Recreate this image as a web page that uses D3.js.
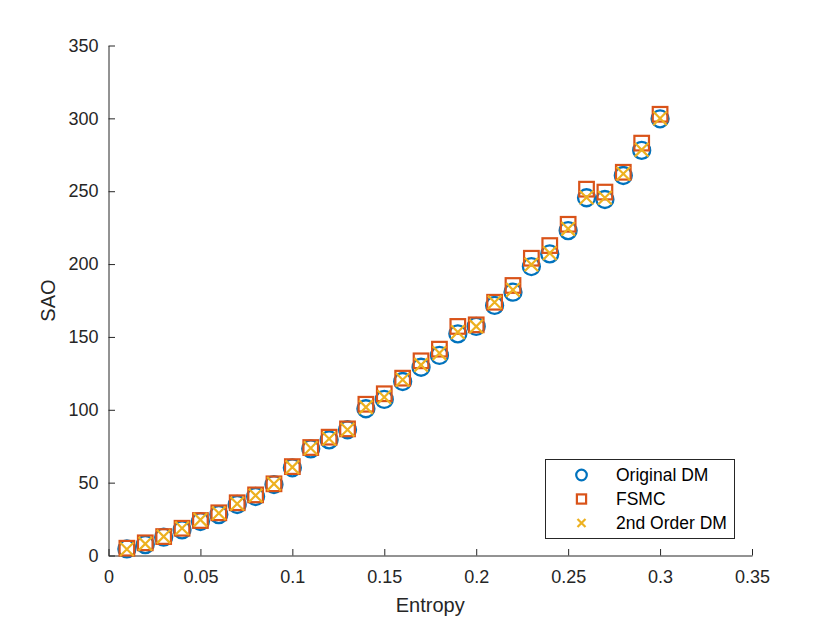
<!DOCTYPE html>
<html>
<head>
<meta charset="utf-8">
<script src="https://cdn.jsdelivr.net/npm/d3@7"></script>
<style>
	body{margin:0;background:#fff;}
	svg{display:block;font-family:"Liberation Sans",Arial,Helvetica,sans-serif;}
	.axis path,.axis line{stroke:#262626;stroke-width:1;}
	.axis text{fill:#262626;font-size:18px;}
</style>
</head>
<body>
<svg width="830" height="623"></svg>
<script>
const entropy = [0.01,0.02,0.03,0.04,0.05,0.06,0.07,0.08,0.09,0.10,
	0.11,0.12,0.13,0.14,0.15,0.16,0.17,0.18,0.19,0.20,
	0.21,0.22,0.23,0.24,0.25,0.26,0.27,0.28,0.29,0.30];
const originalDM = [4.5,7.5,12.6,17.6,23.3,28.1,35,40.5,48.7,60.2,
	73.2,79.4,86.3,100.7,107.1,119.4,129.2,137.3,152.1,157.2,
	171.6,180.7,198.3,207,223,245.5,244.3,260.8,278,299.7];
const fsmc = [5,8.7,13,18.7,24,29.3,36.2,41.6,49.2,61,
	74.1,81.2,86.9,103.8,111,121.7,133.6,141.6,157.2,158.3,
	173.8,185.3,204,212.7,227.3,251.4,249.4,263,283,302.8];
const secondOrderDM = [4.3,8,13,18.7,24.5,29,35.5,41.2,49.2,60.6,
	73.7,80.1,86.3,101.8,108.7,120.6,130.8,138.9,153.3,157.2,
	173.8,182.3,199.7,207.5,224.2,245.7,245.5,262,278.4,300];
const xTicks = [0,0.05,0.1,0.15,0.2,0.25,0.3,0.35];
const yTicks = [0,50,100,150,200,250,300,350];
const legendLabels = ['Original DM','FSMC','2nd Order DM'];

const colors = ['#0072BD','#D95319','#EDB120'];
const svg = d3.select('svg');
const x = d3.scaleLinear().domain([0,0.35]).range([108.5,752]);
const y = d3.scaleLinear().domain([0,350]).range([555.5,45.5]);

// markers
const drawMarker = (g,type,size,color,width)=>{
	if(type==0){
		g.append('circle').attr('r',size).attr('fill','none')
			.attr('stroke',color).attr('stroke-width',width);
	}
	else if(type==1){
		g.append('rect').attr('x',-size).attr('y',-size)
			.attr('width',size*2).attr('height',size*2)
			.attr('fill','none').attr('stroke',color).attr('stroke-width',width);
	}
	else{
		g.append('path').attr('d',`M${-size},${-size}L${size},${size}M${-size},${size}L${size},${-size}`)
			.attr('fill','none').attr('stroke',color).attr('stroke-width',width);
	}
};

// axes
svg.append('g').classed('axis',true)
	.attr('transform',`translate(0,${y(0)})`)
	.call(d3.axisBottom(x).tickValues(xTicks).tickSize(-6.5).tickSizeOuter(0).tickPadding(15)
		.tickFormat(d=>d3.format('')(+d.toFixed(2))));
svg.append('g').classed('axis',true)
	.attr('transform',`translate(${x(0)},0)`)
	.call(d3.axisLeft(y).tickValues(yTicks).tickSize(-6.5).tickSizeOuter(0).tickPadding(10));
svg.selectAll('.axis .domain').attr('stroke','#262626');

const sizes = [8.5,7.3,6.8];
const widths = [2.3,2.2,2.2];
[originalDM,fsmc,secondOrderDM].forEach((series,k)=>{
	svg.append('g').selectAll('g')
		.data(series)
		.join('g')
		.attr('transform',(d,i)=>`translate(${x(entropy[i])},${y(d)})`)
		.each(function(){ drawMarker(d3.select(this),k,sizes[k],colors[k],widths[k]); });
});

// labels
svg.append('text').attr('x',(x(0)+x(0.35))/2).attr('y',612)
	.attr('text-anchor','middle').attr('fill','#262626').style('font-size','20px').text('Entropy');
svg.append('text').attr('transform',`translate(55,${(y(0)+y(350))/2}) rotate(-90)`)
	.attr('text-anchor','middle').attr('fill','#262626').style('font-size','20px').text('SAO');

// legend
const legend = svg.append('g');
legend.append('rect').attr('x',545.5).attr('y',459.5).attr('width',189).attr('height',79)
	.attr('fill','#fff').attr('stroke','#262626').attr('stroke-width',1);
const lsizes = [5.3,4.6,4];
legendLabels.forEach((lab,k)=>{
	const row = legend.append('g').attr('transform',`translate(581.5,${475+k*24})`);
	drawMarker(row,k,lsizes[k],colors[k],2.2);
	row.append('text').attr('x',34.5).attr('y',6).attr('fill','#000')
		.style('font-size','17.5px').text(lab);
});
</script>
</body>
</html>
